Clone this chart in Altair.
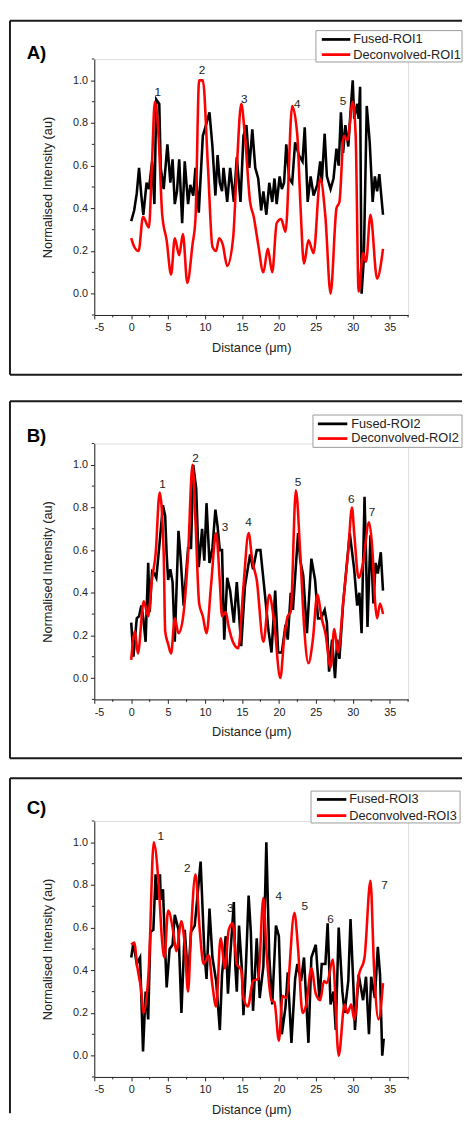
import altair as alt
import pandas as pd

FONT = "Liberation Sans"

# ---------------- Panel A ----------------
A_fused_x = [0, 0.4, 0.75, 1.06, 1.37, 1.64, 2.08, 2.4, 2.83, 3.14,
             3.4, 3.8, 4.0, 4.4, 4.9, 5.3, 5.6, 5.9, 6.2, 6.5,
             6.9, 7.25, 7.7, 8.0, 8.4, 8.7, 9.15, 9.7, 10.2, 10.6,
             11.0, 11.4, 11.7, 12.0, 12.3, 12.5, 13.0, 13.4, 13.9, 14.3,
             14.8, 15.2, 15.6, 16.0, 16.4, 16.8, 17.2, 17.6, 17.9, 18.3,
             18.7, 19.1, 19.4, 19.7, 20.1, 20.4, 20.7, 21.0, 21.4, 21.8,
             22.2, 22.7, 23.2, 23.5, 23.9, 24.3, 24.7, 25.2, 25.6, 25.8,
             26.2, 26.5, 27.0, 27.4, 27.8, 28.1, 28.4, 28.7, 29.0, 29.4,
             29.7, 30.0, 30.2, 30.6, 30.8, 31.0, 31.2, 31.5, 31.9, 32.3,
             32.7, 33.0, 33.3, 33.6, 34.1]
A_fused_y = [0.34, 0.39, 0.47, 0.59, 0.46, 0.37, 0.52, 0.49, 0.62, 0.42,
             0.91, 0.89, 0.59, 0.49, 0.70, 0.52, 0.63, 0.42, 0.48, 0.63,
             0.33, 0.62, 0.42, 0.51, 0.46, 0.59, 0.38, 0.74, 0.80, 0.85,
             0.69, 0.46, 0.65, 0.52, 0.48, 0.59, 0.43, 0.59, 0.43, 0.64,
             0.43, 0.74, 0.79, 0.59, 0.77, 0.59, 0.54, 0.39, 0.48, 0.37,
             0.52, 0.43, 0.54, 0.42, 0.55, 0.49, 0.52, 0.70, 0.54, 0.52,
             0.71, 0.65, 0.62, 0.78, 0.43, 0.55, 0.46, 0.51, 0.62, 0.52,
             0.75, 0.55, 0.49, 0.54, 0.68, 0.60, 0.85, 0.66, 0.79, 0.69,
             0.85, 1.00, 0.82, 0.89, 0.82, 0.97, 0.00, 0.16, 0.88, 0.71,
             0.43, 0.55, 0.48, 0.56, 0.37]
A_dec_x = [0, 0.4, 1.0, 1.6, 2.4, 2.8, 3.2, 3.7, 4.2, 4.8,
           5.4, 5.9, 6.5, 7.0, 7.6, 8.3, 8.7, 9.2, 9.7, 10.4,
           11.0, 11.5, 11.9, 12.4, 13.0, 13.8, 14.3, 14.9, 15.4, 16.1,
           16.6, 17.2, 17.9, 18.5, 19.1, 19.7, 20.3, 20.9, 21.8, 22.5,
           22.9, 23.4, 24.0, 24.7, 25.6, 26.3, 27.0, 27.8, 28.2, 28.8,
           29.3, 30.0, 30.4, 30.8, 31.4, 31.8, 32.4, 33.3, 34.1]
A_dec_y = [0.26, 0.22, 0.20, 0.36, 0.31, 0.60, 0.90, 0.74, 0.37, 0.25,
           0.09, 0.26, 0.18, 0.28, 0.05, 0.23, 0.35, 1.00, 1.00, 0.59,
           0.22, 0.20, 0.26, 0.23, 0.13, 0.26, 0.59, 0.89, 0.74, 0.43,
           0.36, 0.23, 0.10, 0.21, 0.10, 0.33, 0.35, 0.29, 0.88, 0.74,
           0.43, 0.14, 0.25, 0.19, 0.54, 0.36, 0.00, 0.40, 0.43, 0.74,
           0.72, 0.90, 0.74, 0.01, 0.19, 0.15, 0.37, 0.07, 0.21]
A_peak_x = [3.6, 9.6, 15.3, 22.5, 28.7]
A_peak_y = [0.946, 1.05, 0.91, 0.89, 0.905]
A_peak_t = ["1", "2", "3", "4", "5"]

# ---------------- Panel B ----------------
B_fused_x = [0, 0.3, 0.75, 1.06, 1.37, 1.64, 1.95, 2.3, 2.5, 2.83,
             3.14, 3.4, 3.7, 4.3, 4.6, 4.8, 5.0, 5.3, 5.6, 5.9,
             6.4, 6.7, 7.1, 7.7, 8.1, 8.4, 8.8, 9.15, 9.6, 9.9,
             10.2, 10.6, 11.0, 11.4, 11.7, 12.0, 12.3, 12.6, 13.0, 13.4,
             13.9, 14.3, 14.9, 15.4, 16.1, 16.5, 17.0, 17.5, 18.0, 18.6,
             19.0, 19.5, 19.9, 20.4, 20.9, 21.2, 21.6, 21.9, 22.6, 22.9,
             23.3, 23.8, 24.4, 24.9, 25.3, 25.7, 26.2, 26.5, 26.8, 27.2,
             27.6, 27.9, 28.2, 28.7, 29.0, 29.6, 30.2, 30.6, 30.9, 31.2,
             31.6, 31.8, 32.0, 32.4, 32.8, 33.1, 33.4, 33.8, 34.1]
B_fused_y = [0.26, 0.10, 0.28, 0.29, 0.34, 0.28, 0.17, 0.54, 0.31, 0.50,
             0.49, 0.47, 0.58, 0.81, 0.76, 0.58, 0.46, 0.51, 0.45, 0.17,
             0.69, 0.56, 0.34, 0.61, 0.61, 1.00, 0.89, 0.52, 0.70, 0.55,
             0.82, 0.54, 0.61, 0.79, 0.71, 0.60, 0.60, 0.18, 0.47, 0.41,
             0.26, 0.45, 0.15, 0.43, 0.58, 0.51, 0.60, 0.60, 0.43, 0.22,
             0.12, 0.41, 0.12, 0.12, 0.25, 0.18, 0.40, 0.32, 0.68, 0.55,
             0.48, 0.21, 0.56, 0.46, 0.28, 0.28, 0.32, 0.26, 0.03, 0.18,
             0.00, 0.18, 0.09, 0.35, 0.46, 0.68, 0.51, 0.34, 0.40, 0.21,
             0.85, 0.58, 0.24, 0.67, 0.35, 0.54, 0.49, 0.59, 0.41]
B_dec_x = [0, 0.5, 0.9, 1.7, 2.3, 2.8, 3.3, 3.85, 4.4, 4.6,
           5.0, 5.4, 5.9, 6.4, 7.0, 7.7, 8.3, 8.7, 9.2, 9.7,
           10.2, 10.8, 11.5, 12.0, 12.3, 12.8, 13.2, 13.9, 14.5, 15.2,
           15.9, 16.4, 17.0, 17.9, 18.7, 19.3, 20.2, 20.7, 21.2, 21.6,
           22.3, 22.9, 23.4, 24.0, 24.6, 25.2, 25.8, 26.3, 27.0, 27.5,
           28.0, 28.7, 29.4, 29.9, 30.2, 30.8, 31.4, 32.2, 32.7, 33.0,
           33.3, 33.7, 34.1]
B_dec_y = [0.085, 0.22, 0.115, 0.36, 0.29, 0.46, 0.58, 0.87, 0.58, 0.22,
           0.16, 0.115, 0.28, 0.21, 0.28, 0.58, 1.00, 0.74, 0.35, 0.29,
           0.21, 0.43, 0.68, 0.45, 0.29, 0.31, 0.24, 0.16, 0.14, 0.43,
           0.68, 0.55, 0.46, 0.17, 0.39, 0.28, 0.00, 0.18, 0.29, 0.31,
           0.88, 0.58, 0.25, 0.07, 0.18, 0.39, 0.28, 0.21, 0.05, 0.23,
           0.12, 0.35, 0.60, 0.80, 0.68, 0.47, 0.54, 0.73, 0.58, 0.37,
           0.28, 0.35, 0.30]
B_peak_x = [4.25, 8.7, 12.7, 15.9, 22.6, 29.8, 32.6]
B_peak_y = [0.91, 1.03, 0.71, 0.73, 0.92, 0.84, 0.78]
B_peak_t = ["1", "2", "3", "4", "5", "6", "7"]

# ---------------- Panel C ----------------
C_fused_x = [0, 0.3, 0.75, 1.2, 1.6, 1.95, 2.3, 2.6, 3.0, 3.3,
             3.5, 3.9, 4.0, 4.3, 4.6, 4.8, 5.2, 5.6, 5.9, 6.4,
             6.8, 7.25, 7.7, 8.1, 8.6, 9.0, 9.4, 9.9, 10.2, 10.6,
             11.0, 11.5, 12.0, 12.3, 12.8, 13.1, 13.4, 13.9, 14.1, 14.3,
             14.6, 15.0, 15.2, 15.5, 15.9, 16.2, 16.5, 17.0, 17.4, 17.9,
             18.3, 18.7, 19.1, 19.6, 20.0, 20.4, 20.9, 21.2, 21.7, 22.2,
             22.5, 23.0, 23.4, 24.0, 24.4, 25.0, 25.5, 25.8, 26.3, 26.6,
             27.0, 27.4, 27.7, 28.1, 28.6, 28.9, 29.4, 29.7, 30.1, 30.3,
             30.8, 31.4, 31.8, 32.2, 32.5, 33.0, 33.4, 33.7, 34.0, 34.2]
C_fused_y = [0.46, 0.53, 0.43, 0.46, 0.02, 0.30, 0.17, 0.58, 0.59, 0.85,
             0.73, 0.85, 0.73, 0.78, 0.50, 0.32, 0.50, 0.52, 0.66, 0.59,
             0.20, 0.59, 0.36, 0.58, 0.61, 0.76, 0.91, 0.49, 0.36, 0.69,
             0.46, 0.35, 0.12, 0.38, 0.56, 0.29, 0.46, 0.72, 0.42, 0.30,
             0.61, 0.40, 0.19, 0.39, 0.75, 0.58, 0.21, 0.55, 0.27, 0.42,
             1.00, 0.46, 0.24, 0.61, 0.56, 0.10, 0.23, 0.39, 0.06, 0.36,
             0.43, 0.35, 0.46, 0.06, 0.46, 0.52, 0.26, 0.43, 0.43, 0.62,
             0.24, 0.30, 0.12, 0.60, 0.30, 0.20, 0.35, 0.64, 0.32, 0.12,
             0.38, 0.26, 0.37, 0.10, 0.37, 0.27, 0.51, 0.38, 0.00, 0.08]
C_dec_x = [0, 0.4, 0.85, 1.3, 1.7, 2.4, 3.05, 3.7, 4.2, 4.5,
           5.0, 5.7, 6.1, 6.8, 7.25, 7.7, 8.1, 8.7, 9.3, 9.8,
           10.5, 11.0, 11.5, 12.1, 12.7, 13.2, 13.75, 14.3, 14.9, 15.2,
           15.8, 16.5, 17.2, 17.9, 18.3, 19.0, 19.4, 20.0, 20.5, 21.0,
           22.1, 22.6, 23.2, 23.7, 24.4, 25.0, 25.6, 26.1, 26.5, 27.3,
           28.1, 28.9, 29.3, 29.8, 30.2, 30.8, 31.6, 32.4, 32.9, 33.5, 34.1]
C_dec_y = [0.52, 0.53, 0.41, 0.32, 0.20, 0.42, 1.00, 0.81, 0.53, 0.46,
           0.68, 0.58, 0.49, 0.63, 0.52, 0.30, 0.58, 0.85, 0.58, 0.43,
           0.47, 0.33, 0.23, 0.55, 0.41, 0.59, 0.62, 0.43, 0.40, 0.27,
           0.23, 0.35, 0.36, 0.74, 0.50, 0.26, 0.25, 0.07, 0.28, 0.27,
           0.67, 0.50, 0.20, 0.24, 0.41, 0.29, 0.26, 0.35, 0.34, 0.45,
           0.00, 0.24, 0.20, 0.24, 0.17, 0.37, 0.46, 0.82, 0.40, 0.17, 0.34]
C_peak_x = [4.0, 7.6, 13.4, 20.0, 23.5, 27.0, 34.3]
C_peak_y = [1.03, 0.88, 0.69, 0.75, 0.70, 0.64, 0.80]
C_peak_t = ["1", "2", "3", "4", "5", "6", "7"]

# ---------------- Axes ----------------
x_major = [-5, 0, 5, 10, 15, 20, 25, 30, 35]
x_minor = [-2.5, 2.5, 7.5, 12.5, 17.5, 22.5, 27.5, 32.5, 37.5]
y_major = [0.0, 0.2, 0.4, 0.6, 0.8, 1.0]
y_minor = [-0.1, 0.1, 0.3, 0.5, 0.7, 0.9, 1.1]

W, H = 320, 261
AXC = "#222222"

xs = alt.Scale(domain=[-5, 37.5], nice=False, zero=False)
ys = alt.Scale(domain=[-0.1, 1.1], nice=False, zero=False)

x_axis = alt.Axis(values=x_major, labelExpr="datum.value + ''", title="Distance (\u03bcm)",
                  grid=False, tickSize=4, tickColor=AXC, domainColor=AXC, tickWidth=1,
                  labelFontSize=11, labelColor=AXC, labelPadding=3, labelFont=FONT,
                  titleFontSize=13, titleFontWeight="normal", titleColor=AXC,
                  titleFont=FONT, titlePadding=9)
y_axis = alt.Axis(values=y_major, format=".1f", title="Normalised Intensity (au)",
                  grid=False, tickSize=4, tickColor=AXC, domainColor=AXC, tickWidth=1,
                  labelFontSize=11, labelColor=AXC, labelPadding=3, labelFont=FONT,
                  titleFontSize=13, titleFontWeight="normal", titleColor=AXC,
                  titleFont=FONT, titlePadding=18)

XE = alt.X("x:Q", scale=xs, axis=x_axis)
YE = alt.Y("y:Q", scale=ys, axis=y_axis)

one = pd.DataFrame({"k": [0]})


def panel(letter, fx, fy, dx, dy, px, py, pt, roi, g):
    fused = alt.Chart(pd.DataFrame({"x": fx, "y": fy})).mark_line(
        color="black", strokeWidth=2.6).encode(x=XE, y=YE)
    dec = alt.Chart(pd.DataFrame({"x": dx, "y": dy})).mark_line(
        color="#ff0000", strokeWidth=2.6, interpolate="monotone").encode(x=XE, y=YE)
    peaks = alt.Chart(pd.DataFrame({"x": px, "y": py, "t": pt})).mark_text(
        fontSize=12, font=FONT, color="#222", align="center", baseline="middle").encode(
        x=XE, y=YE, text="t:N")
    xmin = alt.Chart(pd.DataFrame({"x": x_minor})).mark_rule(
        color=AXC, strokeWidth=1).encode(x=XE, y=alt.value(H), y2=alt.value(H + 2.5))
    ymin = alt.Chart(pd.DataFrame({"y": y_minor})).mark_rule(
        color=AXC, strokeWidth=1).encode(y=YE, x=alt.value(-2.5), x2=alt.value(0))

    fl, fr = -86, 375
    layers = [fused, dec, peaks, xmin, ymin]
    base = alt.Chart(one)
    fstroke = dict(color="#1a1a1a", strokeWidth=2)
    layers.append(base.mark_rule(**fstroke).encode(
        x=alt.value(fl), x2=alt.value(fr), y=alt.value(g["top"])))
    layers.append(base.mark_rule(**fstroke).encode(
        x=alt.value(fl), y=alt.value(g["top"]), y2=alt.value(g["left_bottom"])))
    if g.get("bottom") is not None:
        layers.append(base.mark_rule(**fstroke).encode(
            x=alt.value(fl), x2=alt.value(fr), y=alt.value(g["bottom"])))
    if g.get("spacer") is not None:
        layers.append(base.mark_rule(strokeOpacity=0, strokeWidth=1).encode(
            x=alt.value(0), y=alt.value(g["spacer"] - 6), y2=alt.value(g["spacer"])))
    # legend
    bx0, by0, bx1, by1 = g["box"]
    layers.append(base.mark_rect(fill="white", stroke="#9a9a9a", strokeWidth=1).encode(
        x=alt.value(bx0), x2=alt.value(bx1), y=alt.value(by0), y2=alt.value(by1)))
    lx0, lx1 = g["lx"]
    ly0, ly1 = g["ly"]
    layers.append(base.mark_rule(color="black", strokeWidth=2.8).encode(
        x=alt.value(lx0), x2=alt.value(lx1), y=alt.value(ly0)))
    layers.append(base.mark_rule(color="#ff0000", strokeWidth=2.8).encode(
        x=alt.value(lx0), x2=alt.value(lx1), y=alt.value(ly1)))
    tstyle = dict(fontSize=13, font=FONT, color="#222", align="left", baseline="middle")
    layers.append(base.mark_text(text="Fused-" + roi, **tstyle).encode(
        x=alt.value(g["tx"]), y=alt.value(ly0)))
    layers.append(base.mark_text(text="Deconvolved-" + roi, **tstyle).encode(
        x=alt.value(g["tx"]), y=alt.value(ly1)))
    # panel letter
    layers.append(base.mark_text(text=letter, fontSize=19, fontWeight="bold", font=FONT,
                                 color="black", align="left", baseline="alphabetic").encode(
        x=alt.value(-69), y=alt.value(g["label_y"])))
    return alt.layer(*layers).properties(width=W, height=H)


pA = panel("A)", A_fused_x, A_fused_y, A_dec_x, A_dec_y, A_peak_x, A_peak_y, A_peak_t, "ROI1",
           dict(top=-39, bottom=322, left_bottom=322, spacer=329,
                box=(226, -29, 375, 3), lx=(232, 261), ly=(-20, -4.5), tx=264, label_y=0))
pB = panel("B)", B_fused_x, B_fused_y, B_dec_x, B_dec_y, B_peak_x, B_peak_y, B_peak_t, "ROI2",
           dict(top=-43, bottom=321, left_bottom=321,
                box=(223, -29, 375, 4), lx=(228, 258), ly=(-20, -5), tx=262, label_y=-1))
pC = panel("C)", C_fused_x, C_fused_y, C_dec_x, C_dec_y, C_peak_x, C_peak_y, C_peak_t, "ROI3",
           dict(top=-43.5, bottom=None, left_bottom=298,
                box=(221, -30.5, 373, 2), lx=(227, 257), ly=(-22, -5.5), tx=260, label_y=-7.5))

chart = alt.vconcat(pA, pB, pC, spacing=17).properties(padding=0).configure_view(
    strokeWidth=0).configure(font=FONT)

chart.save("out.html", embed_options={"renderer": "svg", "actions": False})
